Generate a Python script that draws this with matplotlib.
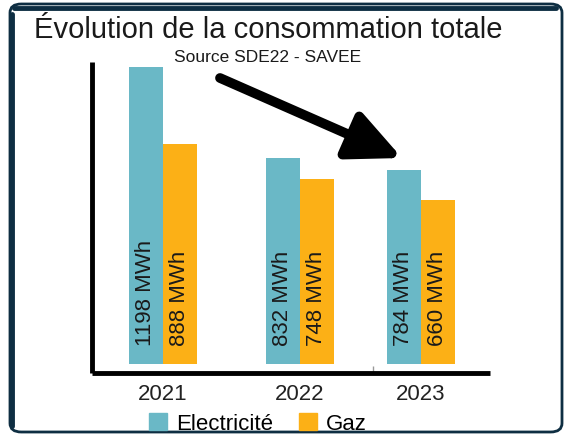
import matplotlib
matplotlib.use("Agg")
import matplotlib.pyplot as plt
from matplotlib.patches import FancyBboxPatch, FancyArrowPatch, Patch

plt.rcParams['font.family'] = ['Liberation Sans', 'DejaVu Sans']

# Data
years = ['2021', '2022', '2023']
electricite = [1198, 832, 784]
gaz = [888, 748, 660]

title = "Évolution de la consommation totale"
subtitle = "Source SDE22 - SAVEE"

elec_color = '#6ab8c6'
gaz_color = '#fcb016'
frame_color = '#0e2e42'

# Figure, 565x438 px
fig = plt.figure(figsize=(5.65, 4.38), dpi=100)
W, H = 565, 438

def px_rect(x0, y0, x1, y1):
    # pixel box (top-left origin) -> figure fraction [left, bottom, width, height]
    return [x0 / W, (H - y1) / H, (x1 - x0) / W, (y1 - y0) / H]

# Rounded frame around everything
frame = FancyBboxPatch((10 / W, 6 / H), 552 / W, 428 / H,
                       boxstyle="round,pad=0,rounding_size=0.02",
                       transform=fig.transFigure, fill=False,
                       edgecolor=frame_color, lw=2, zorder=0)
fig.patches.append(frame)
fig.add_artist(plt.Line2D([14 / W, 556 / W], [(H - 8) / H, (H - 8) / H],
                          transform=fig.transFigure, color=frame_color, lw=3.5,
                          solid_capstyle='round'))
fig.add_artist(plt.Line2D([12 / W, 12 / W], [12 / H, (H - 14) / H],
                          transform=fig.transFigure, color=frame_color, lw=3.5,
                          solid_capstyle='round'))

ax = fig.add_axes(px_rect(92, 62, 490, 373))

# uneven group spacing as in the original
xpos = [0, 1, 1.883]
w = 0.248
xe = [x - w / 2 for x in xpos]
xg = [x + w / 2 for x in xpos]
ax.bar(xe, electricite, width=w, color=elec_color, label='Electricité')
ax.bar(xg, gaz, width=w, color=gaz_color, label='Gaz')

for x, v in zip(xe, electricite):
    ax.text(x, 74, f"{v} MWh", rotation=90, ha='center', va='bottom',
            fontsize=16, color='#1a1a1a')
for x, v in zip(xg, gaz):
    ax.text(x, 74, f"{v} MWh", rotation=90, ha='center', va='bottom',
            fontsize=16, color='#1a1a1a')

ax.set_xlim(-0.518, 2.387)
ax.set_ylim(-36, 1218)
ax.set_xticks(xpos)
ax.set_xticklabels(years, fontsize=16, color='#222222')
ax.tick_params(axis='x', length=0, pad=8)
ax.set_xticks([1.533], minor=True)
ax.tick_params(axis='x', which='minor', direction='in', length=5, width=1, color='#999999')
ax.set_yticks([])
for s in ['top', 'right']:
    ax.spines[s].set_visible(False)
for s in ['left', 'bottom']:
    ax.spines[s].set_linewidth(3.5)
    ax.spines[s].set_color('black')
    ax.spines[s].set_capstyle('butt')

# Titles
fig.text(268 / W, 1 - 30 / H, title, ha='center', va='center', fontsize=21, color='#1a1a1a')
fig.text(268 / W, 1 - 57 / H, subtitle, ha='center', va='center', fontsize=12.5, color='#1a1a1a')

# Trend arrow
fig.add_artist(FancyArrowPatch(
    (220 / W, 1 - 78 / H), (402 / W, 1 - 158 / H),
    transform=fig.transFigure, arrowstyle='-|>,head_length=1.6,head_width=0.75',
    mutation_scale=20, lw=7, color='black', capstyle='round', shrinkA=0, shrinkB=0))

# Legend
handles = [Patch(color=elec_color, label='Electricité'), Patch(color=gaz_color, label='Gaz')]
fig.legend(handles=handles, loc='center', bbox_to_anchor=(258 / W, 1 - 424 / H),
           ncol=2, frameon=False, fontsize=16, handlelength=0.8, handleheight=0.8,
           handletextpad=0.4, columnspacing=1.2, borderpad=0)

fig.savefig('out.png', dpi=100)
